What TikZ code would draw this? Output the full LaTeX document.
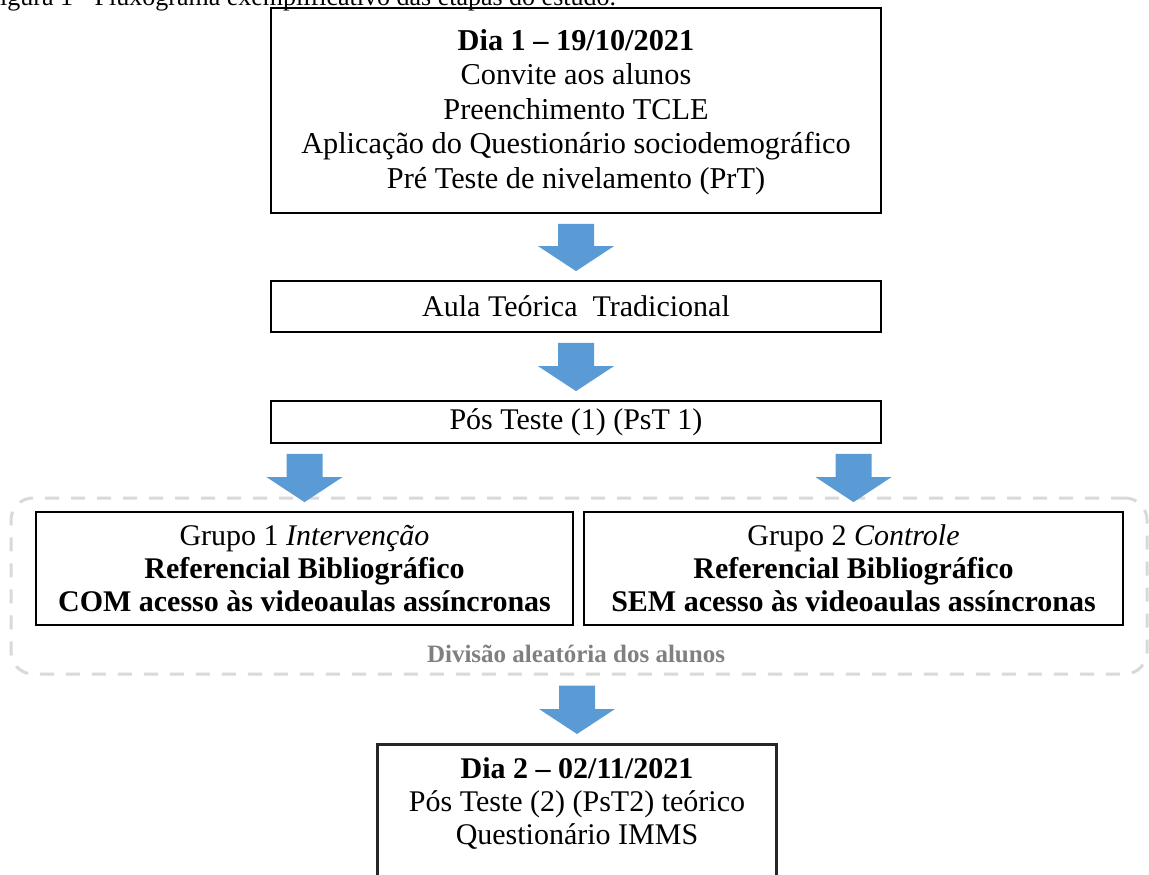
\documentclass[tikz,border=0pt]{standalone}
\usepackage{fontspec}
\setmainfont{Liberation Serif}
\usetikzlibrary{calc}
\definecolor{arrowblue}{HTML}{5B9BD5}
\definecolor{dashgray}{HTML}{D9D9D9}
\definecolor{notegray}{HTML}{808080}
\newcommand\barrow[3]{\fill[arrowblue] let \p1=(#1 |- #2), \p2=(#1 |- #3) in
  (\x1-18pt,\y1-10pt) -- (\x1+18pt,\y1-10pt) -- (\x1+18pt,\y2+34pt) -- (\x1+38pt,\y2+34pt)
  -- (\x1,\y2+9pt) -- (\x1-38pt,\y2+34pt) -- (\x1-18pt,\y2+34pt) -- cycle;}
\begin{document}
\begin{tikzpicture}[x=1pt,y=-1pt,
  box/.style={draw=black, line width=1.8pt, align=center, inner sep=0pt,
    font=\fontsize{30}{34}\selectfont},
  lastbox/.style={draw=black!85, line width=3pt, inner sep=0pt},
  txt/.style={align=center, inner sep=0pt, font=\fontsize{30}{33}\selectfont},
  grpbox/.style={draw=dashgray, line width=3pt, dash pattern=on 14pt off 12pt, rounded corners=22pt, inner sep=0pt},
  note/.style={text=notegray, font=\fontsize{25}{28}\selectfont\bfseries, inner sep=0pt},
  caption/.style={font=\fontsize{26}{30}\selectfont, inner sep=0pt}]
\useasboundingbox (0,0) rectangle (1149,875);
\fill[white] (0,0) rectangle (1149,875);

\node[caption, anchor=base west] (cap) at (-14.5,6) {Figura 1 - Fluxograma exemplificativo das etapas do estudo.};

\node[box, minimum width=610, minimum height=205] (b1) at (576,110.5) {};
\node[txt, font=\fontsize{30.3}{34.5}\selectfont] (b1t) at ($(b1.center)+(0,1.5)$)
  {\textbf{Dia 1 – 19/10/2021}\\Convite aos alunos\\Preenchimento TCLE\\Aplicação do Questionário sociodemográfico\\Pré Teste de nivelamento (PrT)};
\node[box, minimum width=610, minimum height=51] (b2) at (576,306.5) {Aula Teórica~ Tradicional};
\node[box, minimum width=610, minimum height=42] (b3) at (576,422) {Pós Teste (1) (PsT 1)};

\node[grpbox, minimum width=1136, minimum height=176] (grp) at (579,586) {};
\node[box, txt, draw=black, line width=1.8pt, minimum width=537, minimum height=113] (g1) at (304.5,568.5)
  {Grupo 1 \textit{Intervenção}\\\textbf{Referencial Bibliográfico}\\\textbf{COM acesso às videoaulas assíncronas}};
\node[box, txt, draw=black, line width=1.8pt, minimum width=539, minimum height=113] (g2) at (853.5,568.5)
  {Grupo 2 \textit{Controle}\\\textbf{Referencial Bibliográfico}\\\textbf{SEM acesso às videoaulas assíncronas}};
\node[note, anchor=base] (div) at (576,662) {Divisão aleatória dos alunos};

\node[lastbox, anchor=north, minimum width=399, minimum height=200] (b4) at (577,743) {};
\node[txt] (b4t) at ($(b4.north)+(0,61)$)
  {\textbf{Dia 2 – 02/11/2021}\\Pós Teste (2) (PsT2) teórico\\Questionário IMMS};

\barrow{b1.south}{b1.south}{b2.north}
\barrow{b2.south}{b2.south}{b3.north}
\barrow{g1.north}{b3.south}{g1.north}
\barrow{g2.north}{b3.south}{g2.north}
\barrow{b4.north}{grp.south}{b4.north}
\end{tikzpicture}
\end{document}
